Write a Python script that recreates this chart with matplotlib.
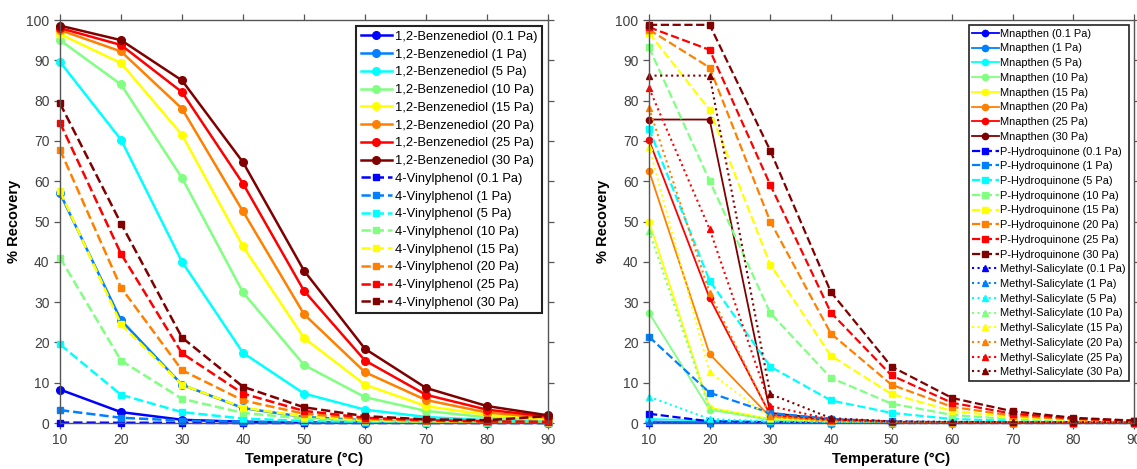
import matplotlib
matplotlib.use("Agg")
from matplotlib import pyplot as plt

plt.rcParams['font.family'] = ['Liberation Sans', 'DejaVu Sans']

temps = [10, 20, 30, 40, 50, 60, 70, 80, 90]
pressures = ["0.1", "1", "5", "10", "15", "20", "25", "30"]
colors = ['#0000ff', '#0080ff', '#00ffff', '#80ff80', '#ffff00', '#ff8000', '#ff0000', '#800000']

# left panel
benzenediol = [
    [8.3, 2.7, 0.8, 0.3, 0.15, 0.1, 0.05, 0.05, 0.05],
    [57.0, 25.5, 9.5, 3.7, 1.5, 0.7, 0.35, 0.2, 0.1],
    [89.6, 70.3, 40.0, 17.4, 7.3, 3.3, 1.5, 0.7, 0.4],
    [95.0, 84.0, 60.8, 32.4, 14.4, 6.4, 3.0, 1.4, 0.8],
    [96.5, 89.3, 71.5, 43.8, 21.1, 9.5, 4.2, 2.0, 1.0],
    [97.5, 92.2, 78.0, 52.5, 27.0, 12.6, 5.7, 2.6, 1.3],
    [98.0, 93.8, 82.1, 59.4, 32.8, 15.5, 7.0, 3.3, 1.6],
    [98.6, 95.0, 85.0, 64.7, 37.8, 18.4, 8.7, 4.2, 1.9],
]
vinylphenol = [
    [0.1, 0.05, 0.05, 0.0, 0.0, 0.0, 0.0, 0.0, 0.0],
    [3.2, 1.3, 0.6, 0.3, 0.15, 0.1, 0.05, 0.05, 0.0],
    [19.5, 7.0, 2.7, 1.1, 0.5, 0.25, 0.1, 0.1, 0.05],
    [41.0, 15.5, 6.0, 2.5, 1.1, 0.5, 0.25, 0.15, 0.1],
    [57.5, 24.5, 9.5, 3.8, 1.6, 0.7, 0.35, 0.2, 0.15],
    [67.8, 33.6, 13.1, 5.6, 2.3, 1.0, 0.5, 0.3, 0.2],
    [74.5, 42.0, 17.3, 7.3, 3.0, 1.3, 0.7, 0.4, 0.3],
    [79.3, 49.5, 21.2, 9.0, 3.9, 1.7, 0.9, 0.7, 1.7],
]

# right panel
mnapthen = [
    [0.2, 0.1, 0.0, 0.0, 0.0, 0.0, 0.0, 0.0, 0.0],
    [0.4, 0.2, 0.1, 0.0, 0.0, 0.0, 0.0, 0.0, 0.0],
    [1.0, 0.6, 0.3, 0.1, 0.05, 0.0, 0.0, 0.0, 0.0],
    [27.3, 3.3, 0.8, 0.3, 0.1, 0.05, 0.0, 0.0, 0.0],
    [50.0, 3.8, 1.0, 0.4, 0.2, 0.1, 0.05, 0.0, 0.0],
    [62.6, 17.1, 1.5, 0.5, 0.2, 0.1, 0.05, 0.05, 0.0],
    [70.2, 31.0, 2.0, 0.7, 0.3, 0.15, 0.1, 0.05, 0.05],
    [75.3, 75.3, 2.5, 0.9, 0.3, 0.2, 0.1, 0.1, 0.05],
]
hydroquinone = [
    [2.3, 0.4, 0.2, 0.1, 0.0, 0.0, 0.0, 0.0, 0.0],
    [21.4, 7.5, 2.5, 1.0, 0.4, 0.2, 0.1, 0.1, 0.0],
    [73.0, 35.3, 14.0, 5.6, 2.5, 1.0, 0.5, 0.3, 0.2],
    [93.2, 60.1, 27.3, 11.2, 4.8, 2.0, 0.9, 0.5, 0.3],
    [96.8, 77.7, 39.3, 16.7, 7.2, 3.0, 1.4, 0.7, 0.4],
    [97.6, 88.2, 50.0, 22.2, 9.5, 4.0, 1.8, 0.9, 0.5],
    [98.2, 92.6, 59.1, 27.4, 11.8, 5.0, 2.3, 1.1, 0.5],
    [98.8, 98.8, 67.6, 32.5, 14.0, 6.2, 2.9, 1.3, 0.6],
]
salicylate = [
    [0.1, 0.0, 0.0, 0.0, 0.0, 0.0, 0.0, 0.0, 0.0],
    [0.3, 0.1, 0.05, 0.0, 0.0, 0.0, 0.0, 0.0, 0.0],
    [6.5, 1.0, 0.4, 0.2, 0.1, 0.05, 0.0, 0.0, 0.0],
    [47.7, 3.5, 0.8, 0.3, 0.1, 0.1, 0.05, 0.0, 0.0],
    [68.6, 12.6, 1.2, 0.4, 0.2, 0.1, 0.1, 0.05, 0.0],
    [78.2, 32.3, 1.8, 0.6, 0.2, 0.2, 0.1, 0.1, 0.1],
    [83.1, 48.1, 4.2, 0.9, 0.3, 0.2, 0.2, 0.1, 0.1],
    [86.2, 86.2, 7.2, 1.2, 0.4, 0.3, 0.2, 0.2, 0.2],
]

fig = plt.figure(figsize=(11.37, 4.69), dpi=100)
ax1 = fig.add_axes([60 / 1137, 46 / 469, 488 / 1137, 403 / 469])
ax2 = fig.add_axes([649 / 1137, 46 / 469, 485 / 1137, 403 / 469])

for i, p in enumerate(pressures):
    ax1.plot(temps, benzenediol[i], '-', marker='o', color=colors[i], lw=1.8, ms=5.5,
             clip_on=False, label=f"1,2-Benzenediol ({p} Pa)")
for i, p in enumerate(pressures):
    ax1.plot(temps, vinylphenol[i], '--', marker='s', color=colors[i], lw=1.8, ms=5,
             clip_on=False, label=f"4-Vinylphenol ({p} Pa)")

for i, p in enumerate(pressures):
    ax2.plot(temps, mnapthen[i], '-', marker='o', color=colors[i], lw=1.3, ms=4.5,
             clip_on=False, label=f"Mnapthen ({p} Pa)")
for i, p in enumerate(pressures):
    ax2.plot(temps, hydroquinone[i], '--', marker='s', color=colors[i], lw=1.6, ms=4.5,
             clip_on=False, label=f"P-Hydroquinone ({p} Pa)")
for i, p in enumerate(pressures):
    ax2.plot(temps, salicylate[i], ':', marker='^', color=colors[i], lw=1.5, ms=4.5,
             clip_on=False, label=f"Methyl-Salicylate ({p} Pa)")

for ax in (ax1, ax2):
    ax.set_xlim(10, 90)
    ax.set_ylim(0, 100)
    ax.set_xticks(temps)
    ax.set_yticks(range(0, 101, 10))
    ax.tick_params(direction='out', length=4, width=0.9, colors='#555555',
                   labelcolor='#404040', labelsize=10, top=True, right=True,
                   labeltop=False, labelright=False)
    for s in ax.spines.values():
        s.set_color('#555555')
        s.set_linewidth(1.0)
    ax.set_xlabel("Temperature (°C)", fontsize=10.5, fontweight='bold', labelpad=3)
    ax.set_ylabel("% Recovery", fontsize=10.5, fontweight='bold', labelpad=4)

leg1 = ax1.legend(loc='upper right', fontsize=9.3, labelspacing=0.44, handlelength=2.4,
                  handletextpad=0.2, borderpad=0.35, borderaxespad=0.5,
                  fancybox=False, framealpha=1)
leg1.get_frame().set_edgecolor('#222222')
leg1.get_frame().set_linewidth(1.5)

leg2 = ax2.legend(loc='upper right', fontsize=7.9, labelspacing=0.43, handlelength=2.4,
                  handletextpad=0.1, borderpad=0.3, borderaxespad=0.5,
                  fancybox=False, framealpha=1)
leg2.get_frame().set_edgecolor('#222222')
leg2.get_frame().set_linewidth(1.2)

fig.savefig("out.png", dpi=100)
